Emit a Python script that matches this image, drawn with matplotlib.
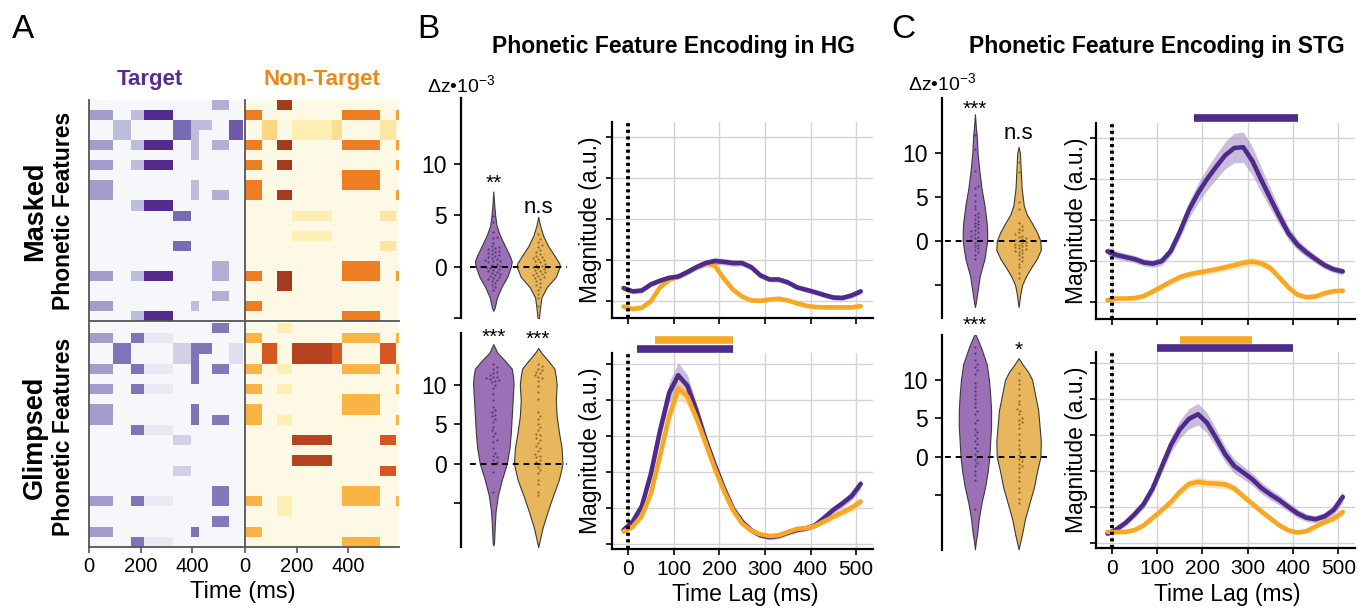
import numpy as np
import matplotlib
matplotlib.use('Agg')
import matplotlib.pyplot as plt
from matplotlib.colors import LinearSegmentedColormap

plt.rcParams['font.family'] = ['Liberation Sans', 'DejaVu Sans']
plt.rcParams['mathtext.fontset'] = 'custom'
plt.rcParams['mathtext.rm'] = 'Liberation Sans'
plt.rcParams['mathtext.it'] = 'Liberation Sans:italic'
plt.rcParams['mathtext.bf'] = 'Liberation Sans:bold'

# ---------------- Panel A data ----------------
n_features = 22
target_edges = [0, 93, 162, 211, 326, 393, 427, 477, 543, 595]
nontarget_edges = [0, 65, 125, 183, 336, 377, 523, 587, 595]
target_features = [
    "000000010", "101100000", "010011101", "010011001", "101101010",
    "000001000", "101100000", "000000000", "100001000", "100001010",
    "001100000", "000010000", "000000000", "000000000", "000010000",
    "000000000", "000000010", "101100010", "000000000", "000000010",
    "100001000", "001100000"]
nontarget_features = [
    "00100000", "10000101", "01011010", "01011010", "10100101",
    "00000000", "10100001", "00000100", "10000100", "10100001",
    "00000000", "00010010", "00000000", "00010000", "00000010",
    "00000000", "00000100", "10100101", "00100000", "00000000",
    "10000000", "00000100"]
target_masked_weight = [0.50, 0.35, 0.35, 1.00, 0.72, 0.35, 0.35, 0.42, 0.80]
target_glimpsed_weight = [0.50, 0.68, 0.68, 0.12, 0.25, 0.68, 0.68, 0.66, 0.18]
nontarget_masked_weight = [0.60, 0.30, 1.00, 0.15, 0.25, 0.60, 0.20, 0.50]
nontarget_glimpsed_weight = [0.45, 0.75, 0.15, 0.92, 0.75, 0.45, 0.75, 0.45]
heat_ticks = [0, 200, 400]

# ---------------- Panels B/C line data ----------------
lag = [-10, 10, 30, 50, 70, 90, 110, 130, 150, 170, 190, 210, 230, 250, 270,
       290, 310, 330, 350, 370, 390, 410, 430, 450, 470, 490, 510]

hg_masked_target = [.32, .24, .26, .41, .50, .57, .60, .71, .83, .93, .98, .96, .93, .93,
                    .83, .63, .53, .53, .46, .34, .28, .22, .15, .09, .08, .14, .24]
hg_masked_target_sem = [.06, .06, .06, .06, .06, .06, .06, .07, .07, .08, .08, .08, .08, .07,
                        .07, .07, .06, .06, .06, .06, .06, .06, .06, .06, .06, .06, .07]
hg_masked_nontarget = [-.13, -.19, -.16, .00, .34, .52, .60, .71, .83, .93, .87, .55, .28, .11,
                       .02, .01, .04, .06, .02, -.05, -.11, -.14, -.15, -.15, -.15, -.15, -.12]
hg_masked_nontarget_sem = [.05, .05, .05, .05, .06, .06, .06, .06, .07, .09, .08, .07, .06, .05,
                           .05, .05, .05, .05, .05, .05, .05, .05, .05, .05, .05, .05, .05]

hg_glimpsed_target = [.39, .62, 1.05, 1.95, 3.15, 4.20, 4.69, 4.40, 3.70, 2.90, 2.20, 1.55, .98, .62,
                      .38, .24, .19, .22, .31, .39, .43, .52, .73, .95, 1.13, 1.33, 1.67]
hg_glimpsed_target_sem = [.07, .08, .10, .15, .22, .30, .35, .30, .22, .16, .12, .10, .08, .07,
                          .07, .07, .07, .07, .07, .07, .07, .08, .09, .10, .11, .12, .14]
hg_glimpsed_nontarget = [.34, .48, .78, 1.40, 2.45, 3.55, 4.32, 4.10, 3.50, 2.80, 2.10, 1.48, .94, .57,
                         .37, .27, .22, .24, .33, .42, .44, .50, .63, .76, .88, 1.01, 1.18]
hg_glimpsed_nontarget_sem = [.06, .07, .09, .12, .18, .24, .27, .25, .20, .15, .11, .09, .07, .06,
                             .06, .06, .06, .06, .06, .06, .06, .07, .08, .09, .10, .11, .12]

stg_masked_target = [1.24, 1.15, 1.10, 1.05, .97, .94, 1.00, 1.25, 1.72, 2.25, 2.66, 3.00, 3.30, 3.58,
                     3.76, 3.78, 3.45, 2.98, 2.53, 2.09, 1.68, 1.40, 1.21, 1.05, .90, .80, .75]
stg_masked_target_sem = [.10, .10, .09, .09, .09, .09, .10, .12, .16, .20, .24, .27, .30, .33,
                         .36, .37, .35, .30, .25, .20, .16, .13, .11, .10, .09, .08, .08]
stg_masked_nontarget = [.05, .09, .09, .10, .15, .26, .38, .50, .61, .68, .72, .76, .80, .85,
                        .90, .96, .99, .95, .83, .60, .36, .18, .12, .14, .22, .27, .28]
stg_masked_nontarget_sem = [.05, .05, .05, .05, .06, .07, .07, .07, .08, .08, .08, .08, .08, .09,
                            .09, .10, .10, .10, .09, .08, .07, .06, .06, .06, .06, .06, .06]

stg_glimpsed_target = [.26, .38, .56, .80, 1.08, 1.52, 2.12, 2.72, 3.16, 3.45, 3.58, 3.34, 2.92, 2.47,
                       2.14, 1.96, 1.77, 1.53, 1.35, 1.19, 1.00, .82, .70, .66, .74, .92, 1.28]
stg_glimpsed_target_sem = [.07, .08, .09, .10, .12, .14, .17, .21, .25, .28, .30, .28, .25, .22,
                           .20, .18, .17, .16, .15, .14, .13, .12, .11, .10, .11, .13, .16]
stg_glimpsed_nontarget = [.31, .30, .31, .36, .49, .70, .91, 1.14, 1.42, 1.64, 1.70, 1.66, 1.65, 1.63,
                          1.52, 1.30, 1.09, .88, .68, .49, .35, .29, .33, .46, .58, .68, .86]
stg_glimpsed_nontarget_sem = [.06, .06, .06, .06, .07, .08, .09, .10, .11, .12, .13, .12, .12, .12,
                              .11, .10, .10, .09, .08, .07, .07, .06, .06, .07, .08, .09, .10]

# significance windows (ms)
sig_hg_glimpsed_nontarget = [60, 230]
sig_hg_glimpsed_target = [20, 230]
sig_stg_masked_target = [181, 410]
sig_stg_glimpsed_nontarget = [150, 310]
sig_stg_glimpsed_target = [99, 400]
lag_ticks = [0, 100, 200, 300, 400, 500]

# ---------------- Violin data (delta z x 1e-3) ----------------
# density outline: levels and half-widths
vio_hg_masked_t_y = [7.3, 6, 5, 4, 3, 2, 1, 0.5, 0, -1, -2, -3, -4, -4.3]
vio_hg_masked_t_w = [0, .02, .04, .07, .15, .26, .37, .41, .39, .31, .18, .08, .03, 0]
vio_hg_masked_n_y = [4.85, 4, 3, 2, 1, 0.3, 0, -1, -2, -3, -4, -5, -5.2]
vio_hg_masked_n_w = [0, .04, .11, .22, .37, .47, .48, .39, .19, .07, .04, .015, 0]
vio_hg_glimpsed_t_y = [15.1, 14, 13, 12, 11, 10, 8, 6, 4, 2, 0, -2, -4, -6, -8, -10, -10.3]
vio_hg_glimpsed_t_w = [0, .09, .26, .41, .44, .45, .43, .41, .39, .36, .30, .19, .10, .05, .03, .015, 0]
vio_hg_glimpsed_n_y = [14.6, 14, 13, 12, 11, 10, 8, 6, 4, 2, 0, -2, -4, -6, -8, -10, -10.5]
vio_hg_glimpsed_n_w = [0, .07, .22, .36, .39, .41, .39, .41, .46, .52, .54, .46, .33, .21, .10, .02, 0]
vio_stg_masked_t_y = [14.4, 13, 12, 10, 8, 6, 4, 2, 1, 0, -2, -4, -6, -7, -7.5]
vio_stg_masked_t_w = [0, .02, .04, .06, .10, .15, .22, .27, .28, .28, .22, .11, .05, .02, 0]
vio_stg_masked_n_y = [10.7, 10, 8, 6, 4, 3, 2, 1, 0, -1, -2, -3, -4, -5, -6, -7, -7.5]
vio_stg_masked_n_w = [0, .03, .05, .07, .12, .19, .31, .42, .50, .51, .42, .29, .17, .08, .04, .015, 0]
vio_stg_glimpsed_t_y = [16, 15, 14, 12, 10, 8, 6, 4, 2, 0, -2, -4, -6, -8, -10, -11, -12]
vio_stg_glimpsed_t_w = [0, .08, .15, .27, .32, .35, .37, .37, .35, .33, .29, .23, .15, .09, .05, .02, 0]
vio_stg_glimpsed_n_y = [12.8, 12, 11, 10, 8, 6, 4, 2, 0, -2, -4, -6, -8, -10, -11, -12]
vio_stg_glimpsed_n_w = [0, .09, .22, .31, .38, .45, .48, .51, .50, .42, .35, .25, .15, .08, .04, 0]

pts_hg_masked_t = [4.9, 4.3, 3.4, 2.9, 2.8, 2.3, 2.0, 1.9, 1.8, 1.7, 1.6, 1.5, 1.4, 1.3, 1.2, 1.1,
                   1.0, 0.9, 0.8, 0.7, 0.6, 0.5, 0.5, 0.4, 0.3, 0.2, 0.1, 0.0, 0.0, -0.1, -0.2,
                   -0.3, -0.4, -0.5, -0.6, -0.7, -0.8, -0.9, -1.0, -1.1, -1.2, -1.3, -1.4, -1.6,
                   -1.8, -2.0, -2.3]
pts_hg_masked_n = [3.2, 2.7, 2.4, 2.1, 1.9, 1.6, 1.4, 1.2, 1.0, 0.9, 0.8, 0.7, 0.6, 0.5, 0.4,
                   0.3, 0.2, 0.1, 0.0, 0.0, -0.1, -0.2, -0.3, -0.4, -0.5, -0.6, -0.7, -0.8, -0.9,
                   -1.0, -1.1, -1.2, -1.4, -1.6, -1.8, -2.0, -2.3, -2.7, -3.1, -3.8]
pts_hg_glimpsed_t = [12.6, 12.2, 12.0, 11.6, 11.4, 11.2, 11.0, 10.9, 10.8, 10.7, 10.6, 10.5, 10.3,
                     10.0, 9.6, 8.8, 8.0, 7.2, 6.8, 6.5, 6.2, 6.0, 5.7, 5.3, 4.7, 4.2, 3.9, 3.5,
                     3.0, 2.8, 2.0, 1.4, 1.0, 0.8, 0.5, 0.2, 0.0, -1.0, -3.5]
pts_hg_glimpsed_n = [12.6, 12.3, 12.0, 11.8, 11.6, 11.4, 11.2, 11.0, 10.8, 10.5, 9.8, 9.0, 8.2,
                     6.5, 6.0, 5.6, 5.0, 4.6, 4.2, 3.8, 3.6, 3.3, 3.0, 2.6, 2.2, 2.0, 1.6, 1.2,
                     1.0, 0.8, 0.5, 0.2, 0.0, -0.4, -0.8, -1.2, -2.0, -2.5, -3.5, -4.0]
pts_stg_masked_t = [12.0, 10.5, 8.0, 6.3, 6.0, 5.2, 4.5, 4.0, 3.6, 3.2, 3.0, 2.7, 2.5, 2.3, 2.1,
                    1.9, 1.7, 1.5, 1.3, 1.1, 1.0, 0.8, 0.6, 0.4, 0.3, 0.1, 0.0, -0.2, -0.4, -0.6,
                    -0.8, -1.0, -1.3, -1.6, -2.0]
pts_stg_masked_n = [9.0, 7.8, 4.4, 3.6, 2.0, 1.7, 1.4, 1.2, 1.0, 0.8, 0.6, 0.5, 0.3, 0.2, 0.1,
                    0.0, -0.1, -0.2, -0.3, -0.4, -0.5, -0.6, -0.7, -0.8, -0.9, -1.0, -1.1, -1.2,
                    -1.4, -1.6, -1.8, -2.0, -2.3, -2.6, -3.0, -3.6, -4.2]
pts_stg_glimpsed_t = [14.2, 13.5, 12.6, 12.0, 11.6, 11.2, 10.8, 9.6, 9.0, 8.5, 8.0, 7.5, 7.0, 6.5,
                      6.0, 5.6, 4.8, 4.4, 3.6, 3.2, 2.8, 2.4, 2.0, 1.6, 1.2, 0.8, 0.4, 0.0, -0.4,
                      -0.8, -1.2, -1.8, -2.4, -3.0, -6.8]
pts_stg_glimpsed_n = [10.9, 10.0, 9.4, 8.8, 8.0, 7.3, 6.8, 6.2, 5.9, 5.5, 5.0, 4.8, 4.5, 4.2, 3.7,
                      3.0, 2.2, 1.5, 1.0, 0.6, 0.2, 0.0, -0.3, -0.6, -0.9, -1.2, -1.5, -2.0, -2.6,
                      -3.2, -4.0, -4.6, -5.5, -6.0]

# ---------------- styling ----------------
PURPLE_LINE = '#4e2b8a'
ORANGE_LINE = '#f7a823'
PURPLE_BAND = '#9d86c2'
ORANGE_BAND = '#fbcf85'
PURPLE_VIO = '#9b70b7'
ORANGE_VIO = '#e8b65c'

cmap_t = LinearSegmentedColormap.from_list('tgt', [
    (0.0, '#f6f7fb'), (0.15, '#e6e4f1'), (0.35, '#bfbddd'), (0.5, '#a29dcb'),
    (0.7, '#7b70b6'), (1.0, '#552a8e')])
cmap_n = LinearSegmentedColormap.from_list('ntg', [
    (0.0, '#fdf9e4'), (0.15, '#fdeeb3'), (0.3, '#fcd581'), (0.45, '#f9b443'),
    (0.6, '#ef7e22'), (0.75, '#d9561f'), (1.0, '#a53a1f')])

W, H = 1369, 609
fig = plt.figure(figsize=(W / 100, H / 100), dpi=100)


def px_axes(x0, y0, x1, y1):
    return fig.add_axes([x0 / W, 1 - y1 / H, (x1 - x0) / W, (y1 - y0) / H])


def ftext(x, y, s, **kw):
    return fig.text(x / W, 1 - y / H, s, **kw)


# ---------------- Panel A ----------------
def heat(ax, edges, feats, weights, cmap, bottom):
    mat = np.array([[int(c) for c in row] for row in feats], dtype=float) * np.array(weights)
    ax.pcolormesh(edges, np.arange(n_features + 1), mat, cmap=cmap, vmin=0, vmax=1,
                  edgecolors='none')
    ax.set_xlim(edges[0], edges[-1])
    ax.set_ylim(n_features, 0)
    for s in ['top', 'right']:
        ax.spines[s].set_visible(False)
    for s in ['left', 'bottom']:
        ax.spines[s].set_color('#555555')
        ax.spines[s].set_linewidth(1.3)
    ax.set_yticks([])
    if bottom:
        ax.set_xticks(heat_ticks)
        ax.set_xticklabels([str(v) for v in heat_ticks], fontsize=14.5)
        ax.tick_params(axis='x', length=4, width=1.2, color='#555555', pad=3)
    else:
        ax.set_xticks([])


a1 = px_axes(89.3, 100, 242.6, 321)
heat(a1, target_edges, target_features, target_masked_weight, cmap_t, False)
a2 = px_axes(245, 100, 398.5, 321)
heat(a2, nontarget_edges, nontarget_features, nontarget_masked_weight, cmap_n, False)
a3 = px_axes(89.3, 323, 242.6, 547)
heat(a3, target_edges, target_features, target_glimpsed_weight, cmap_t, True)
a4 = px_axes(245, 323, 398.5, 547)
heat(a4, nontarget_edges, nontarget_features, nontarget_glimpsed_weight, cmap_n, True)

ftext(150, 79, 'Target', fontsize=16, fontweight='bold', color='#5b2c8f', ha='center', va='center')
ftext(322, 79, 'Non-Target', fontsize=16, fontweight='bold', color='#e88a1a', ha='center', va='center')
ftext(35, 211, 'Masked', fontsize=19.5, fontweight='bold', rotation=90, ha='center', va='center')
ftext(63, 211, 'Phonetic Features', fontsize=16.5, fontweight='bold', rotation=90, ha='center', va='center')
ftext(35, 437, 'Glimpsed', fontsize=19.5, fontweight='bold', rotation=90, ha='center', va='center')
ftext(63, 437, 'Phonetic Features', fontsize=16.5, fontweight='bold', rotation=90, ha='center', va='center')
ftext(243, 592, 'Time (ms)', fontsize=17, ha='center', va='center')


# ---------------- violins ----------------
def swarm(ax, pos, vals, color):
    bb = ax.get_position()
    xl, yl = ax.get_xlim(), ax.get_ylim()
    xpx = bb.width * W / (xl[1] - xl[0])
    ypx = bb.height * H / (yl[1] - yl[0])
    d = 3.2
    vals = np.asarray(vals, float)
    order = np.argsort(vals)
    placed = []
    offs = np.zeros(len(vals))
    cands = [0.0]
    for j in range(1, 25):
        cands += [j * d * 0.55, -j * d * 0.55]
    for i in order:
        yp = vals[i] * ypx
        for c in cands:
            if all((c - a) ** 2 + (yp - b) ** 2 >= d * d for a, b in placed):
                break
        placed.append((c, yp))
        offs[i] = c / xpx
    ax.scatter(pos + offs, vals, s=2.6, color=color, alpha=0.8, linewidths=0, zorder=4)


def violin_axes(rect, xlim, ylim, shapes, dash_x0):
    ax = px_axes(*rect)
    ax.set_xlim(*xlim)
    ax.set_ylim(*ylim)
    for s in ['top', 'right', 'bottom']:
        ax.spines[s].set_visible(False)
    ax.spines['left'].set_linewidth(1.6)
    ax.set_xticks([])
    ax.set_yticks([-5, 0, 5, 10])
    ax.set_yticklabels(['', '0', '5', '10'], fontsize=16.5)
    ax.tick_params(axis='y', length=5, width=1.2, pad=5)
    ax.hlines(0, dash_x0, xlim[1], colors='k', linestyles=(0, (3, 2.5)), lw=1.4, zorder=5)
    for pos, ys, ws, fc, pts, dc in shapes:
        ys = np.asarray(ys, float)
        ws = np.asarray(ws, float)
        ax.fill_betweenx(ys, pos - ws, pos + ws, facecolor=fc, edgecolor='#3a3a3a', lw=0.8, zorder=2)
        swarm(ax, pos, pts, dc)
    return ax


def mark(ax, x, y, s, fs=15):
    off = -0.40 * fs if '*' in s else -0.26 * fs
    ax.annotate(s, (x, y), xytext=(0, off), textcoords='offset points', ha='center',
                va='baseline', fontsize=fs, annotation_clip=False)


DOT_P = '#4a2a6e'
DOT_O = '#7d5a1c'
vb1 = violin_axes((461, 98, 567, 318), (-0.72, 1.64), (-4.95, 16.4), [
    (0, vio_hg_masked_t_y, vio_hg_masked_t_w, PURPLE_VIO, pts_hg_masked_t, DOT_P),
    (1, vio_hg_masked_n_y, vio_hg_masked_n_w, ORANGE_VIO, pts_hg_masked_n, DOT_O)], -0.52)
mark(vb1, 0, 8.4, '**')
mark(vb1, 1, 5.8, 'n.s', 16)
vb2 = violin_axes((461, 333, 567, 547), (-0.72, 1.64), (-10.5, 16.5), [
    (0, vio_hg_glimpsed_t_y, vio_hg_glimpsed_t_w, PURPLE_VIO, pts_hg_glimpsed_t, DOT_P),
    (1, vio_hg_glimpsed_n_y, vio_hg_glimpsed_n_w, ORANGE_VIO, pts_hg_glimpsed_n, DOT_O)], -0.52)
mark(vb2, 0, 16.3, '***')
mark(vb2, 1, 16.1, '***')
vc1 = violin_axes((942, 98, 1050, 318), (-0.755, 1.72), (-8.75, 16.25), [
    (0, vio_stg_masked_t_y, vio_stg_masked_t_w, PURPLE_VIO, pts_stg_masked_t, DOT_P),
    (1, vio_stg_masked_n_y, vio_stg_masked_n_w, ORANGE_VIO, pts_stg_masked_n, DOT_O)], -0.68)
mark(vc1, 0, 15.3, '***')
mark(vc1, 1, 12.3, 'n.s', 16)
vc2 = violin_axes((942, 335, 1050, 550), (-0.755, 1.72), (-12.1, 15.8), [
    (0, vio_stg_glimpsed_t_y, vio_stg_glimpsed_t_w, PURPLE_VIO, pts_stg_glimpsed_t, DOT_P),
    (1, vio_stg_glimpsed_n_y, vio_stg_glimpsed_n_w, ORANGE_VIO, pts_stg_glimpsed_n, DOT_O)], -0.68)
mark(vc2, 0, 17.4, '***')
mark(vc2, 1, 14.2, '*')

ftext(427, 85, r'$\Delta$z•10$^{\mathregular{-3}}$', fontsize=14, ha='left', va='center')
ftext(908, 83, r'$\Delta$z•10$^{\mathregular{-3}}$', fontsize=14, ha='left', va='center')


# ---------------- line plots ----------------
def line_axes(rect, ylim, nticks, series, sigs, bottom):
    ax = px_axes(*rect)
    ax.set_xlim(-36, 537)
    ax.set_ylim(*ylim)
    ax.set_yticks(list(range(nticks)))
    ax.set_yticklabels([])
    ax.set_xticks(lag_ticks)
    if bottom:
        ax.set_xticklabels([str(v) for v in lag_ticks], fontsize=15)
    else:
        ax.set_xticklabels([])
    ax.tick_params(length=4, width=1.2, pad=4)
    ax.grid(True, color='#d4d4d4', lw=1.0, zorder=0)
    ax.set_axisbelow(True)
    for s in ['top', 'right']:
        ax.spines[s].set_visible(False)
    for s in ['left', 'bottom']:
        ax.spines[s].set_linewidth(1.6)
    ax.axvline(0, color='k', lw=2.8, ls=(0, (0.8, 0.9)), zorder=6)
    for mean, sem, lc, bc in series:
        m = np.asarray(mean)
        e = np.asarray(sem)
        ax.fill_between(lag, m - e, m + e, color=bc, alpha=0.55, lw=0, zorder=2)
        ax.plot(lag, m, color=lc, lw=3.3, zorder=3, solid_capstyle='round')
    for (x0, x1), yv, c in sigs:
        ax.plot([x0, x1], [yv, yv], color=c, lw=5.5, solid_capstyle='butt', clip_on=False, zorder=7)
    return ax


lb1 = line_axes((611.7, 122, 873, 318), (-0.41, 4.37), 5, [
    (hg_masked_nontarget, hg_masked_nontarget_sem, ORANGE_LINE, ORANGE_BAND),
    (hg_masked_target, hg_masked_target_sem, PURPLE_LINE, PURPLE_BAND)], [], False)
lb2 = line_axes((611.7, 353, 873, 549), (-0.14, 5.31), 6, [
    (hg_glimpsed_target, hg_glimpsed_target_sem, PURPLE_LINE, PURPLE_BAND),
    (hg_glimpsed_nontarget, hg_glimpsed_nontarget_sem, ORANGE_LINE, ORANGE_BAND)],
    [(sig_hg_glimpsed_nontarget, 5.67, ORANGE_LINE), (sig_hg_glimpsed_target, 5.42, PURPLE_LINE)], True)
lc1 = line_axes((1095.7, 123, 1355, 319), (-0.41, 4.37), 5, [
    (stg_masked_nontarget, stg_masked_nontarget_sem, ORANGE_LINE, ORANGE_BAND),
    (stg_masked_target, stg_masked_target_sem, PURPLE_LINE, PURPLE_BAND)],
    [(sig_stg_masked_target, 4.48, PURPLE_LINE)], False)
lc2 = line_axes((1095.7, 352, 1355, 548), (-0.14, 5.31), 6, [
    (stg_glimpsed_target, stg_glimpsed_target_sem, PURPLE_LINE, PURPLE_BAND),
    (stg_glimpsed_nontarget, stg_glimpsed_nontarget_sem, ORANGE_LINE, ORANGE_BAND)],
    [(sig_stg_glimpsed_nontarget, 5.64, ORANGE_LINE), (sig_stg_glimpsed_target, 5.42, PURPLE_LINE)], True)

for x, y in [(591, 220), (591, 451), (1076, 221), (1076, 450)]:
    ftext(x, y, 'Magnitude (a.u.)', fontsize=16.5, rotation=90, ha='center', va='center')
ftext(745, 594, 'Time Lag (ms)', fontsize=16.5, ha='center', va='center')
ftext(1227, 595, 'Time Lag (ms)', fontsize=16.5, ha='center', va='center')

# ---------------- headings ----------------
ftext(23, 29, 'A', fontsize=24, ha='center', va='center')
ftext(428, 29, 'B', fontsize=24, ha='center', va='center')
ftext(903, 29, 'C', fontsize=24, ha='center', va='center')
ftext(673, 47, 'Phonetic Feature Encoding in HG', fontsize=16.5, fontweight='bold', ha='center', va='center')
ftext(1157, 47, 'Phonetic Feature Encoding in STG', fontsize=16.5, fontweight='bold', ha='center', va='center')

fig.savefig('out.png', dpi=100)
